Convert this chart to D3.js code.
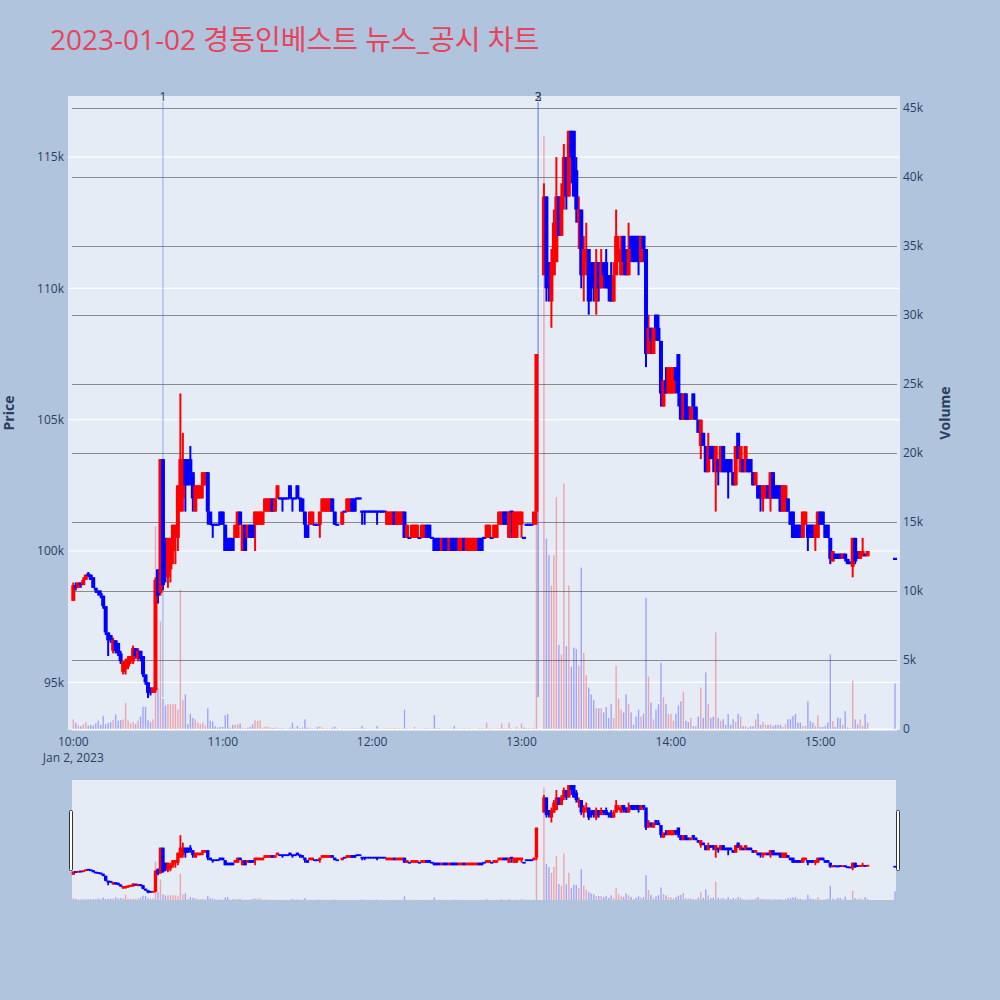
<!DOCTYPE html>
<html><head><meta charset="utf-8">
<script src="https://cdn.jsdelivr.net/npm/d3@7"></script>
<style>body{margin:0;background:#b0c4de;}svg{display:block}</style>
</head><body>
<svg id="chart" width="1000" height="1000"></svg>
<script>
// ---------------- DATA ----------------
const chartTitle = "2023-01-02 경동인베스트 뉴스_공시 차트";
const times = [
"10:00","10:01","10:02","10:03","10:04","10:05","10:06","10:07","10:08","10:09","10:10","10:11","10:12","10:13","10:14","10:15","10:16","10:17","10:18","10:19",
"10:20","10:21","10:22","10:23","10:24","10:25","10:26","10:27","10:28","10:29","10:30","10:31","10:32","10:33","10:34","10:35","10:36","10:37","10:38","10:39",
"10:40","10:41","10:42","10:43","10:44","10:45","10:46","10:47","10:48","10:49","10:50","10:51","10:52","10:53","10:54","10:55","10:56","10:57","10:58","10:59",
"11:00","11:01","11:02","11:03","11:04","11:05","11:06","11:07","11:08","11:09","11:10","11:11","11:12","11:13","11:14","11:15","11:16","11:17","11:18","11:19",
"11:20","11:21","11:22","11:23","11:24","11:25","11:26","11:27","11:28","11:29","11:30","11:31","11:32","11:33","11:34","11:35","11:36","11:37","11:38","11:39",
"11:40","11:41","11:42","11:43","11:44","11:45","11:46","11:48","11:49","11:50","11:51","11:52","11:53","11:54","11:55","11:56","11:57","11:58","11:59",
"12:00","12:01","12:02","12:03","12:04","12:05","12:06","12:07","12:08","12:09","12:10","12:11","12:12","12:13","12:14","12:15","12:16","12:17","12:18","12:19",
"12:20","12:21","12:22","12:23","12:24","12:25","12:26","12:27","12:28","12:29","12:30","12:31","12:32","12:33","12:34","12:35","12:36","12:37","12:38","12:39",
"12:40","12:41","12:42","12:43","12:44","12:45","12:46","12:47","12:48","12:49","12:50","12:51","12:52","12:53","12:54","12:55","12:56","12:57","12:58","12:59",
"13:00","13:01","13:02","13:03","13:04","13:05","13:06",
"13:09","13:10","13:11","13:12","13:13","13:14","13:15","13:16","13:17","13:18","13:19","13:20","13:21","13:22","13:23","13:24","13:25","13:26","13:27","13:28",
"13:29","13:30","13:31","13:32","13:33","13:34","13:35","13:36","13:37","13:38","13:39","13:40","13:41","13:42","13:43","13:44","13:45","13:46","13:47","13:48",
"13:49","13:50","13:51","13:52","13:53","13:54","13:55","13:56","13:57","13:58","13:59",
"14:00","14:01","14:02","14:03","14:04","14:05","14:06","14:07","14:08","14:09","14:10","14:11","14:12","14:13","14:14","14:15","14:16","14:17","14:18","14:19",
"14:20","14:21","14:22","14:23","14:24","14:25","14:26","14:27","14:28","14:29","14:30","14:31","14:32","14:33","14:34","14:35","14:36","14:37","14:38","14:39",
"14:40","14:41","14:42","14:43","14:44","14:45","14:46","14:47","14:48","14:49","14:50","14:51","14:52","14:53","14:54","14:55","14:56","14:57","14:58","14:59",
"15:00","15:01","15:02","15:03","15:04","15:05","15:06","15:07","15:08","15:09","15:10","15:11","15:12","15:13","15:14","15:15","15:16","15:17","15:18","15:19",
"15:30"];
const open = [
98100,98700,98600,98800,98700,98900,99100,99100,99000,98600,98500,98400,98300,97900,96900,96800,96200,96600,96500,96100,
95400,95500,95600,95800,95800,96300,95900,96200,96000,95300,95000,94800,94600,94700,99300,98400,103500,100500,99000,99300,
100000,100500,100500,101500,102000,103500,103500,103500,103000,101500,102000,102000,102500,102500,103000,101500,101000,101000,101000,101500,
101500,101000,100500,100500,100500,100500,100500,101500,100000,101000,100500,101000,101000,101000,101000,101000,101000,101500,101500,101500,
102000,101500,102000,102000,102000,102000,102000,102500,102000,102000,102500,102000,102000,101500,101000,101000,101000,101000,101000,101000,
101500,101500,101500,101500,102000,101500,101000,101000,101500,101500,101500,102000,102000,102000,102000,101500,101500,101500,101500,
101500,101500,101500,101500,101500,101500,101000,101000,101000,101500,101000,101000,101000,101500,100500,100500,100500,100500,100500,100500,
100500,100500,101000,101000,100500,100500,100500,100500,100000,100500,100500,100000,100500,100500,100500,100000,100000,100500,100000,100000,
100000,100000,100000,100500,100500,100500,100500,100500,100500,100500,100500,101000,101000,101500,101500,100500,101500,100500,100500,101000,
101000,100500,101000,101000,101000,101000,101500,
110500,113500,111000,109500,110500,111000,113500,112000,113500,115000,113500,116000,116000,114500,112500,113000,110500,111000,111500,110500,
111000,109500,111000,110000,111000,111000,110500,110500,109500,110500,111000,110500,112000,111500,110500,112000,112000,112000,112000,111000,
112000,111500,107500,108500,107500,109000,108500,108000,105500,106500,106000,
106000,106000,107000,107500,106000,105000,106000,105500,105000,106000,105500,105000,104000,104500,104000,103000,104000,104000,103000,103500,
103000,104000,103500,103500,103500,103000,102500,104500,103000,103500,103000,103500,103500,103000,102500,102500,102500,102000,102000,102500,
102000,103000,102500,102500,102500,101500,101500,102000,101500,101500,101000,101000,101000,100500,101000,101000,101000,101000,100500,100500,
101500,101500,101000,101000,100500,99600,99900,99800,99900,99700,99900,99700,99600,99400,100500,100000,99700,99800,99900,99800,
99700];
const high = [
98800,98800,98800,98800,99000,99100,99200,99100,99000,98600,98500,98500,98300,97900,96900,96800,96700,96600,96500,96200,
95800,95900,96000,96000,96400,96300,96300,96200,96000,95300,95000,94800,94800,99000,99300,103500,103500,100500,100500,100500,
101000,101000,102500,106000,104500,103500,103500,104000,103000,102500,102500,102500,103000,103000,103000,101500,101000,101000,101000,101500,
101500,101000,100500,100500,100500,101000,101500,101500,101000,101000,101000,101000,101000,101500,101500,101500,101500,102000,102000,102000,
102000,102000,102500,102000,102000,102000,102000,102500,102000,102000,102500,102000,102000,101500,101000,101500,101500,101000,101000,101500,
102000,102000,102000,102000,102000,101500,101000,101500,101500,102000,102000,102000,102000,102000,102000,101500,101500,101500,101500,
101500,101500,101500,101500,101500,101500,101500,101500,101500,101500,101500,101500,101500,101500,101000,100500,101000,101000,101000,100500,
101000,101000,101000,101000,100500,100500,100500,100500,100500,100500,100500,100500,100500,100500,100500,100500,100500,100500,100500,100500,
100500,100500,100500,100500,100500,100500,101000,101000,100500,101000,101000,101500,101500,101500,101500,101500,101500,101500,101500,101500,
101500,100500,101000,101000,101000,101500,107500,
114000,113500,111000,111500,113000,115000,113500,114000,115500,115000,116000,116000,116000,115000,113500,113000,112000,112500,111500,111000,
111000,111500,111000,111500,111000,111500,110500,111000,111000,113000,112000,112000,112000,111500,112500,112000,112000,112000,112000,112000,
112000,111500,109000,108500,108500,109000,109000,108000,106500,107000,107000,
107000,107000,107000,107500,106000,106000,106000,105500,105500,106000,105500,105000,105000,104500,104000,104500,104000,104000,104000,103500,
104000,104000,103500,103500,103500,103000,104000,104500,104000,103500,104000,103500,103500,103000,103000,102500,102500,102500,102500,102500,
103000,103000,102500,102500,102500,102500,102500,102000,101500,101500,101000,101000,101000,101500,101500,101000,101000,101000,101000,101500,
101500,101500,101000,101000,100500,100000,99900,99900,99900,99900,99900,99700,99600,100500,100500,100000,100000,100500,99900,100000,
99700];
const low = [
98100,98500,98600,98600,98700,98900,99000,98900,98600,98400,98300,98200,97800,96800,96000,96500,96100,96100,96000,95700,
95300,95300,95500,95700,95700,95900,95800,95800,95200,94900,94400,94500,94600,94600,98000,98300,98500,98800,98600,98800,
99500,99500,100000,101500,101500,101500,102500,102500,101500,101500,102000,102000,102000,102500,101000,101000,100500,101000,101000,101000,
101000,100000,100000,100000,100000,100500,100500,101000,100000,100000,100500,100500,100500,100000,101000,101000,101000,101500,101500,101500,
101500,101500,102000,102000,101500,102000,102000,102000,101500,102000,102000,101500,101500,100500,100500,101000,101000,101000,101000,100500,
101500,101500,101500,101500,101500,101000,101000,101000,101500,101500,101500,101500,101500,102000,102000,101000,101000,101500,101500,
101500,101500,101000,101500,101500,101500,101000,101000,101000,101000,101000,101000,101000,100500,100500,100500,100500,100500,100500,100500,
100500,100500,100500,100500,100500,100000,100000,100000,100000,100000,100000,100000,100000,100000,100000,100000,100000,100000,100000,100000,
100000,100000,100000,100000,100000,100500,100500,100500,100500,100500,100500,101000,101000,101000,101000,100500,100500,100500,100500,101000,
100500,100500,101000,101000,101000,101000,101000,
110500,109500,109500,108500,110500,111000,112000,112000,113000,113000,113500,114000,113500,112500,111500,110000,109500,110500,109000,109500,
109500,109000,109500,110000,110000,110000,109500,109500,109500,110500,111000,110500,110500,110500,110500,111000,111000,111000,110500,111000,
111000,107000,107500,107500,107500,108000,108000,105500,105500,106000,106000,
106000,106000,106000,105500,105000,105000,105000,105000,105000,105000,105000,104500,103500,104000,103000,103000,103500,103000,101500,102500,
103000,103000,103000,102000,103000,102500,102500,103500,103000,103000,103000,103000,103000,102500,102500,102000,101500,101500,102000,102000,
101500,102000,102000,102000,101500,101500,101500,101500,101000,100500,100500,100500,100500,100500,101000,100000,100500,100500,100000,100500,
101000,101000,100500,100500,99500,99600,99700,99700,99700,99700,99600,99500,99500,99000,99500,99700,99700,99800,99800,99800,
99700];
const close = [
98700,98600,98800,98700,98900,99100,99100,98900,98600,98500,98400,98300,97900,96900,96600,96600,96600,96200,96100,95800,
95800,95800,95900,96000,96300,96000,96200,95900,95300,95000,94600,94600,94800,98900,98300,103500,98700,99000,100500,100000,
101000,101000,102500,103500,103500,102500,102500,103000,102000,102500,102500,102500,103000,103000,101500,101000,101000,101000,101000,101000,
101000,100000,100000,100000,100000,101000,101500,101000,101000,100000,101000,100500,100500,101500,101500,101500,101500,102000,102000,102000,
101500,102000,102500,102000,102000,102000,102000,102000,102000,102000,102000,102000,101500,101000,100500,101500,101500,101000,101000,101500,
102000,102000,102000,102000,101500,101000,101000,101500,101500,102000,102000,101500,101500,102000,102000,101500,101500,101500,101500,
101500,101500,101500,101500,101500,101500,101500,101500,101500,101000,101500,101500,101500,100500,101000,100500,101000,101000,101000,100500,
101000,101000,100500,100500,100500,100000,100000,100000,100500,100000,100000,100500,100000,100000,100000,100500,100500,100000,100500,100500,
100500,100500,100500,100000,100000,100500,101000,101000,100500,101000,101000,101500,101500,101000,101000,101500,101500,101500,101500,101500,
101500,100500,101000,101000,101000,101500,107500,
113500,110000,110000,111000,112500,113500,112000,113500,115000,113500,116000,115000,113500,113000,113000,110500,111500,111500,109500,110000,
110000,111000,110000,111000,110500,110000,110000,109500,110500,112000,111500,111500,111000,110500,111500,111500,111000,111500,111000,112000,
111500,107500,108500,108000,108500,108500,108000,106000,106500,106000,107000,
106500,107000,106500,106000,105000,106000,105000,105000,105500,105500,105000,104500,105000,104000,103000,104000,103500,103500,104000,103000,
104000,103000,103000,103000,103000,102500,104000,103500,104000,103000,104000,103000,103000,102500,103000,102000,102000,102500,102500,102000,
103000,102000,102000,102000,101500,102500,102500,101500,101000,100500,100500,100500,100500,101500,101500,100500,100500,100500,101000,101500,
101000,101000,100500,100500,99700,100000,99700,99700,99800,99900,99700,99500,99500,100500,99600,99700,100000,100000,99800,100000,
99700];
const volume = [
700,450,250,200,350,500,250,300,250,400,600,300,950,350,450,500,650,1050,600,650,
700,1900,600,400,500,350,600,900,1600,1600,650,500,700,14700,3000,7800,2200,1700,1800,1800,
1800,1800,1400,10100,2100,2500,350,1100,800,700,450,350,450,250,1500,600,550,200,100,150,
150,1000,1100,100,300,300,350,400,100,50,100,150,350,630,580,630,100,170,170,100,
70,100,100,50,50,30,30,100,460,50,220,50,100,700,100,100,50,30,150,200,
100,50,50,50,100,170,50,50,30,50,50,30,50,30,30,220,50,30,30,
30,30,220,30,30,30,50,50,50,50,50,50,50,1400,50,30,30,150,30,30,
30,50,50,30,30,1000,50,50,30,30,30,30,30,220,30,30,50,50,30,50,
30,30,30,50,50,30,460,50,30,50,30,50,410,50,30,460,50,30,150,30,
410,100,50,50,30,100,16000,
43000,13800,12600,10400,12600,16800,6100,5400,17800,6000,10400,4500,5900,5800,4600,11700,5500,3900,3000,2500,
2100,1500,1500,1500,1200,1600,800,1800,800,4600,2200,1400,1200,2500,1800,1200,300,900,1400,900,
1100,9500,3800,1900,700,1400,1800,4800,2300,1800,1100,
1100,600,1100,1700,2000,2700,600,500,800,200,200,900,3000,800,4100,1800,800,900,7000,800,
600,700,300,1100,300,700,500,1100,900,200,200,100,200,200,700,1100,300,500,300,300,
340,220,300,300,300,150,340,700,700,940,1100,460,460,220,220,2000,580,460,220,1000,
150,150,220,460,5400,580,150,820,770,300,1300,100,50,3500,700,340,700,220,1100,460,
3300];
const priceTicks = [95000, 100000, 105000, 110000, 115000];
const volumeTicks = [0, 5000, 10000, 15000, 20000, 25000, 30000, 35000, 40000, 45000];
const timeTicks = ["10:00", "11:00", "12:00", "13:00", "14:00", "15:00"];
const dateLabel = "Jan 2, 2023";
const newsLabels = ["1", "2", "3"];
const newsTimes = ["10:36:00", "13:06:40", "13:06:40"];

// ---------------- DRAW ----------------
const parseT = s => { const p = s.split(":").map(Number); return new Date(Date.UTC(2023, 0, 2, p[0], p[1], p[2] || 0)); };
const dates = times.map(parseT);
const FONT = "'Open Sans', 'Noto Sans CJK KR', sans-serif";
const TXT = "#2a3f5f";
const UP = "#ff0000", DOWN = "#0000ff";
const isUp = i => close[i] > open[i];
const col = i => isUp(i) ? UP : DOWN;

const svg = d3.select("#chart");
svg.append("rect").attr("width", 1000).attr("height", 1000).attr("fill", "#b0c4de");

svg.append("text").attr("x", 50).attr("y", 50).attr("font-family", FONT)
  .attr("font-size", 28).attr("fill", "#e8435a").text(chartTitle);

const P = {l: 68, r: 900, t: 96, b: 730};
const xDomain = [parseT("09:57:52"), parseT("15:32:00")];
const x = d3.scaleUtc().domain(xDomain).range([P.l, P.r]);
const yP = d3.scaleLinear().domain([93184, 117326]).range([P.b, P.t]);
const yV = d3.scaleLinear().domain([0, 45870]).range([729, P.t]);

svg.append("rect").attr("x", P.l).attr("y", P.t).attr("width", P.r - P.l).attr("height", P.b - P.t).attr("fill", "#e5ecf6");

const gGrid = svg.append("g");
gGrid.selectAll("line.pg").data(priceTicks).join("line")
  .attr("x1", P.l).attr("x2", P.r).attr("y1", d => yP(d)).attr("y2", d => yP(d))
  .attr("stroke", "#ffffff").attr("stroke-width", 1.2);
gGrid.selectAll("line.vg").data(volumeTicks).join("line")
  .attr("x1", 72).attr("x2", 897).attr("y1", d => Math.round(yV(d)) + 0.5).attr("y2", d => Math.round(yV(d)) + 0.5)
  .attr("stroke", d => d === 0 ? "#ffffff" : "#8a8a8a").attr("stroke-width", d => d === 0 ? 2 : 1.2);

const idx = d3.range(times.length);

function drawVolume(g, xs, ys, w) {
  g.selectAll("rect").data(idx).join("rect")
    .attr("x", i => xs(dates[i]) - w / 2).attr("width", w)
    .attr("y", i => ys(volume[i])).attr("height", i => ys(0) - ys(volume[i]))
    .attr("fill", i => col(i)).attr("fill-opacity", 0.3);
}
function drawCandles(g, xs, ys, bodyW, wickW, minH) {
  g.selectAll("line").data(idx).join("line")
    .attr("x1", i => xs(dates[i])).attr("x2", i => xs(dates[i]))
    .attr("y1", i => ys(high[i])).attr("y2", i => ys(low[i]))
    .attr("stroke", i => col(i)).attr("stroke-width", wickW);
  g.selectAll("rect").data(idx).join("rect")
    .attr("x", i => xs(dates[i]) - bodyW / 2).attr("width", bodyW)
    .attr("y", i => { const a = ys(open[i]), b = ys(close[i]); const h = Math.abs(a - b); return Math.min(a, b) - (h < minH ? (minH - h) / 2 : 0); })
    .attr("height", i => Math.max(minH, Math.abs(ys(open[i]) - ys(close[i]))))
    .attr("fill", i => col(i));
}

drawVolume(svg.append("g"), x, yV, 1.4);

// news markers
const gNews = svg.append("g");
newsTimes.forEach((t, k) => {
  const xx = x(parseT(t));
  gNews.append("line").attr("x1", xx).attr("x2", xx).attr("y1", 102).attr("y2", 697)
    .attr("stroke", "#4169e1").attr("stroke-opacity", 0.5).attr("stroke-width", 1);
  gNews.append("text").attr("x", xx).attr("y", 101).attr("text-anchor", "middle")
    .attr("font-family", FONT).attr("font-size", 12).attr("fill", TXT).text(newsLabels[k]);
});

drawCandles(svg.append("g"), x, yP, 4, 2, 2.2);

// axes labels
const fmtK = d3.format("~s");
svg.append("g").selectAll("text").data(priceTicks).join("text")
  .attr("x", 64).attr("y", d => yP(d)).attr("dy", "0.35em").attr("text-anchor", "end")
  .attr("font-family", FONT).attr("font-size", 12).attr("fill", TXT).text(d => fmtK(d));
svg.append("g").selectAll("text").data(volumeTicks).join("text")
  .attr("x", 903).attr("y", d => yV(d)).attr("dy", "0.35em").attr("text-anchor", "start")
  .attr("font-family", FONT).attr("font-size", 12).attr("fill", TXT).text(d => d === 0 ? "0" : fmtK(d));
svg.append("g").selectAll("text").data(timeTicks).join("text")
  .attr("x", d => x(parseT(d))).attr("y", 746).attr("text-anchor", "middle")
  .attr("font-family", FONT).attr("font-size", 12).attr("fill", TXT).text(d => d);
svg.append("text").attr("x", x(parseT(timeTicks[0]))).attr("y", 762).attr("text-anchor", "middle")
  .attr("font-family", FONT).attr("font-size", 12).attr("fill", TXT).text(dateLabel);

svg.append("text").attr("transform", "translate(14,413) rotate(-90)").attr("text-anchor", "middle")
  .attr("font-family", FONT).attr("font-size", 14).attr("font-weight", "bold").attr("fill", TXT).text("Price");
svg.append("text").attr("transform", "translate(950,413) rotate(-90)").attr("text-anchor", "middle")
  .attr("font-family", FONT).attr("font-size", 14).attr("font-weight", "bold").attr("fill", TXT).text("Volume");

// range slider
const S = {l: 72, r: 896, t: 780, b: 900};
svg.append("rect").attr("x", S.l).attr("y", S.t).attr("width", S.r - S.l).attr("height", S.b - S.t).attr("fill", "#e5ecf6");
const ysP = d3.scaleLinear().domain([93064, 116997]).range([S.b, S.t]);
const ysV = d3.scaleLinear().domain([0, 45870]).range([S.b, S.t]);
drawVolume(svg.append("g"), x, ysV, 1.4);
drawCandles(svg.append("g"), x, ysP, 3.4, 1.8, 1.8);
[S.l - 2, S.r + 1].forEach(hx => {
  svg.append("rect").attr("x", hx - 0.5).attr("y", 810.5).attr("width", 3).attr("height", 60)
    .attr("rx", 1).attr("fill", "#ffffff").attr("stroke", "#333").attr("stroke-width", 1);
});
</script>
</body></html>
